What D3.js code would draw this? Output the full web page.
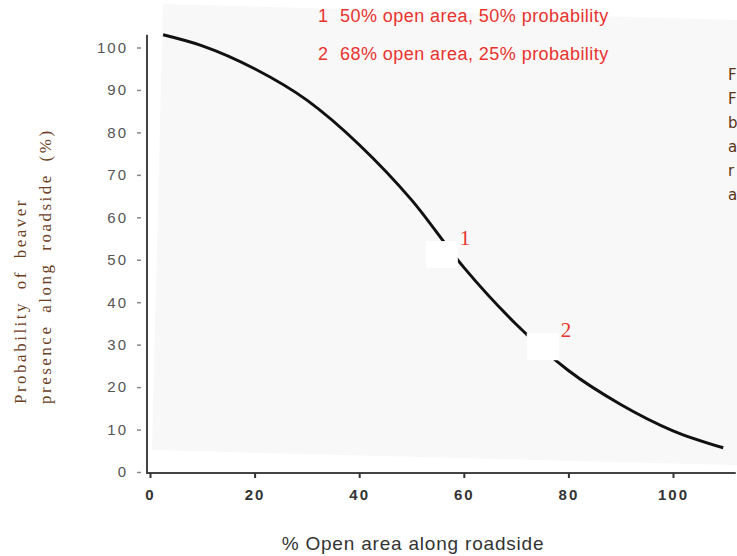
<!DOCTYPE html>
<html>
<head>
<meta charset="utf-8">
<script src="https://cdn.jsdelivr.net/npm/d3@7"></script>
<style>
  html, body { margin: 0; padding: 0; background: #fff; overflow: hidden; }
  svg { display: block; }
</style>
</head>
<body>
<div id="chart"></div>
<script>
// Values
var curveX = [2.5, 10, 20, 30, 40, 50, 60, 70, 80, 90, 100, 109.6];
var curveY = [103.0, 100.4, 95.0, 87.6, 77.1, 64.1, 48.2, 34.8, 23.9, 15.9, 9.7, 5.7];

var pointLabels = ["1", "2"];
var pointX = [55.8, 75.1];
var pointY = [51.1, 29.4];

var legendLabels = ["50% open area, 50% probability", "68% open area, 25% probability"];

var xTicks = [0, 20, 40, 60, 80, 100];
var yTicks = [0, 10, 20, 30, 40, 50, 60, 70, 80, 90, 100];

var yTitle = ["Probability of beaver", "presence along roadside (%)"];
var xTitle = "% Open area along roadside";
// caption cut off by the right page edge: only first letters show
var sideText = ["F", "F", "b", "a", "r", "a"];

var width = 737, height = 556;

var svg = d3.select("#chart")
    .append("svg")
    .attr("width", width)
    .attr("height", height);

// Scanned page background panel (slightly skewed)
svg.append("polygon")
    .attr("points", "163,4 737,20 737,465 733,465 152,450")
    .style("fill", "#f8f8f8");

var x = d3.scaleLinear().domain([0, 100]).range([150, 673]);
var y = d3.scaleLinear().domain([0, 100]).range([472, 47.5]);

// Axis lines
svg.append("line")
    .attr("x1", x(-0.6)).attr("x2", x(112))
    .attr("y1", y(0) + 1).attr("y2", y(0) + 1)
    .style("stroke", "#444").style("stroke-width", 2);

svg.append("line")
    .attr("x1", 147).attr("x2", 147)
    .attr("y1", y(103)).attr("y2", y(0) + 2)
    .style("stroke", "#444").style("stroke-width", 2);

// Y axis ticks and labels
var yAxis = svg.append("g")
    .attr("transform", "translate(141,0)")
    .call(d3.axisLeft(y).tickValues(yTicks).tickSize(4).tickPadding(9));
yAxis.select(".domain").remove();
yAxis.selectAll(".tick line").style("stroke", "#888").style("stroke-width", 1.5);
yAxis.selectAll(".tick text")
    .style("font-family", "'Liberation Sans', Arial, sans-serif")
    .style("font-size", "15px")
    .style("letter-spacing", "2px")
    .style("fill", "#555");

// X axis ticks and labels
var xAxis = svg.append("g")
    .attr("transform", "translate(0," + (y(0) + 1) + ")")
    .call(d3.axisBottom(x).tickValues(xTicks).tickSize(5).tickPadding(11));
xAxis.select(".domain").remove();
xAxis.selectAll(".tick line").style("stroke", "#333").style("stroke-width", 2);
xAxis.selectAll(".tick text")
    .style("font-family", "'Liberation Sans', Arial, sans-serif")
    .style("font-size", "15px")
    .style("font-weight", "bold")
    .style("letter-spacing", "2px")
    .style("fill", "#333");

// The curve
var pts = curveX.map(function(d, i) { return { x: d, y: curveY[i] }; });
var line = d3.line()
    .x(function(d) { return x(d.x); })
    .y(function(d) { return y(d.y); })
    .curve(d3.curveMonotoneX);

svg.append("path")
    .datum(pts)
    .attr("d", line)
    .style("fill", "none")
    .style("stroke", "#111")
    .style("stroke-width", 3);

// Marked points
var marks = pointLabels.map(function(d, i) { return { name: d, x: pointX[i], y: pointY[i] }; });

svg.selectAll("rect.mark")
    .data(marks)
    .enter()
    .append("rect")
    .attr("class", "mark")
    .attr("x", function(d) { return x(d.x) - 16; })
    .attr("y", function(d) { return y(d.y) - 14; })
    .attr("width", 32)
    .attr("height", 27)
    .style("fill", "#fff");

svg.selectAll("text.mark")
    .data(marks)
    .enter()
    .append("text")
    .attr("class", "mark")
    .attr("x", function(d) { return x(d.x) + 18; })
    .attr("y", function(d) { return y(d.y) - 10; })
    .text(function(d) { return d.name; })
    .style("font-family", "'Liberation Serif', 'Times New Roman', serif")
    .style("font-size", "21px")
    .style("fill", "#e8332e");

// Legend at top
var legend = svg.selectAll("g.legend")
    .data(legendLabels)
    .enter()
    .append("g")
    .attr("class", "legend")
    .attr("transform", function(d, i) { return "translate(318," + (22 + i * 38) + ")"; });

legend.append("text")
    .text(function(d, i) { return pointLabels[i]; })
    .style("font-family", "'Liberation Sans', Arial, sans-serif")
    .style("font-size", "18px")
    .style("fill", "#e8332e");

legend.append("text")
    .attr("x", 22)
    .text(function(d) { return d; })
    .style("font-family", "'Liberation Sans', Arial, sans-serif")
    .style("font-size", "18px")
    .style("letter-spacing", "0.45px")
    .style("fill", "#e8332e");

// Y axis title (two rotated lines)
svg.selectAll("text.ytitle")
    .data(yTitle)
    .enter()
    .append("text")
    .attr("class", "ytitle")
    .attr("transform", function(d, i) { return "translate(" + (26 + i * 25) + ",404) rotate(-90)"; })
    .text(function(d) { return d; })
    .style("font-family", "'Liberation Serif', 'Times New Roman', serif")
    .style("font-size", "17px")
    .style("letter-spacing", "2.5px")
    .style("word-spacing", "5px")
    .style("fill", "#6b3f1f");

// X axis title
svg.append("text")
    .attr("x", 413)
    .attr("y", 550)
    .attr("text-anchor", "middle")
    .text(xTitle)
    .style("font-family", "'Liberation Sans', Arial, sans-serif")
    .style("font-size", "19px")
    .style("letter-spacing", "0.8px")
    .style("fill", "#333");

// Caption letters at right edge
svg.selectAll("text.side")
    .data(sideText)
    .enter()
    .append("text")
    .attr("class", "side")
    .attr("x", 728)
    .attr("y", function(d, i) { return 80 + i * 24; })
    .text(function(d) { return d; })
    .style("font-family", "'DejaVu Sans', sans-serif")
    .style("font-size", "15px")
    .style("fill", "#5a3214");
</script>
</body>
</html>
